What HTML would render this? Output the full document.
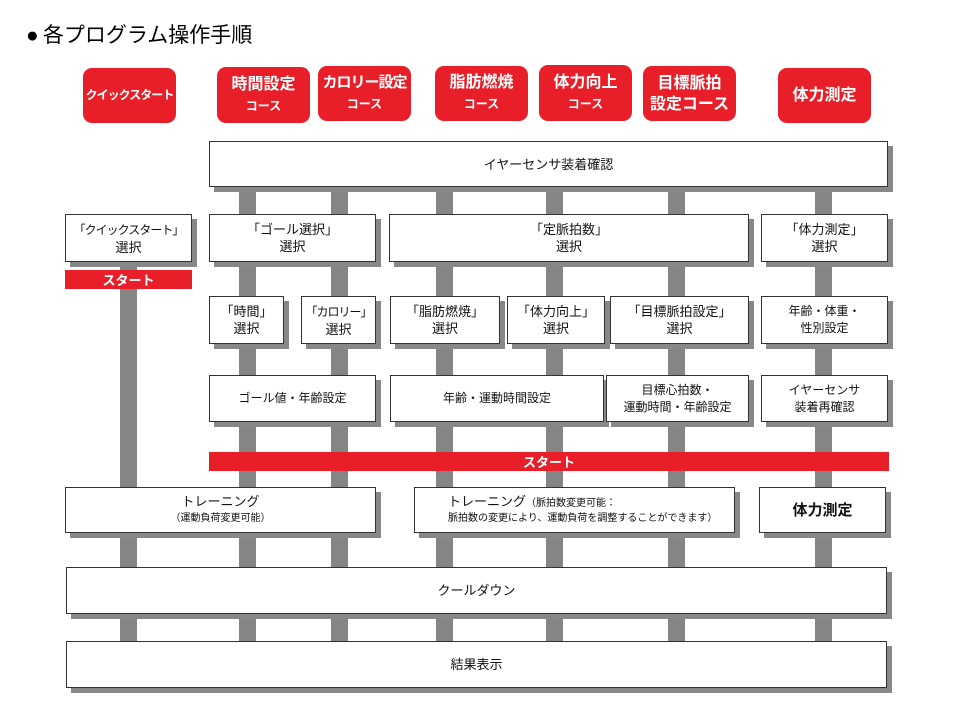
<!DOCTYPE html>
<html><head><meta charset="utf-8"><style>
body{margin:0;width:960px;height:720px;background:#fff;position:relative;overflow:hidden;font-family:"Liberation Sans","Noto Sans CJK JP",sans-serif;}
div{position:absolute;box-sizing:border-box;}
p{margin:0;white-space:nowrap;}
.v{background:#858585;width:17px;}
.b{background:#fff;border:1px solid #333;box-shadow:5px 5px 0 #888;display:flex;align-items:center;justify-content:center;text-align:center;font-size:13px;line-height:17px;color:#111;}
.r{background:#e81e28;color:#fff;border-radius:9px;display:flex;align-items:center;justify-content:center;text-align:center;font-weight:bold;font-size:16px;line-height:21px;}
.s{background:#e81e28;color:#fff;font-weight:bold;font-size:13px;display:flex;align-items:center;justify-content:center;}
</style></head><body>
<div style="left:26px;top:23px;font-size:21px;line-height:26px;white-space:nowrap">●&thinsp;各プログラム操作手順</div>

<div class="v" style="left:120px;top:262px;height:426px"></div>
<div class="v" style="left:239px;top:187px;height:501px"></div>
<div class="v" style="left:331px;top:187px;height:501px"></div>
<div class="v" style="left:436px;top:187px;height:501px"></div>
<div class="v" style="left:546px;top:187px;height:501px"></div>
<div class="v" style="left:668px;top:187px;height:501px"></div>
<div class="v" style="left:815px;top:187px;height:501px"></div>

<div class="r" style="left:83px;top:68px;width:93px;height:55px;font-size:12px;letter-spacing:-1px"><p>クイックスタート</p></div>
<div class="r" style="left:217px;top:67px;width:93px;height:56px"><p>時間設定<br><span style="font-size:12px">コース</span></p></div>
<div class="r" style="left:318px;top:66px;width:93px;height:55px"><p><span style="letter-spacing:-1px;font-size:15px">カロリー設定</span><br><span style="font-size:12px">コース</span></p></div>
<div class="r" style="left:435px;top:66px;width:93px;height:55px"><p>脂肪燃焼<br><span style="font-size:12px">コース</span></p></div>
<div class="r" style="left:539px;top:65px;width:93px;height:56px"><p>体力向上<br><span style="font-size:12px">コース</span></p></div>
<div class="r" style="left:643px;top:66px;width:93px;height:55px"><p>目標脈拍<br>設定コース</p></div>
<div class="r" style="left:778px;top:68px;width:93px;height:55px"><p>体力測定</p></div>

<div class="b" style="left:209px;top:141px;width:679px;height:46px"><p>イヤーセンサ装着確認</p></div>

<div class="b" style="left:65px;top:214px;width:127px;height:48px"><p><span style="font-size:12px;letter-spacing:-1px">「クイックスタート」</span><br>選択</p></div>
<div class="b" style="left:209px;top:214px;width:167px;height:48px"><p>「ゴール選択」<br>選択</p></div>
<div class="b" style="left:389px;top:214px;width:360px;height:48px"><p>「定脈拍数」<br>選択</p></div>
<div class="b" style="left:761px;top:214px;width:127px;height:48px"><p>「体力測定」<br>選択</p></div>
<div class="s" style="left:65px;top:270px;width:127px;height:19px">スタート</div>

<div class="b" style="left:209px;top:296px;width:75px;height:48px"><p>「時間」<br>選択</p></div>
<div class="b" style="left:301px;top:296px;width:75px;height:48px"><p><span style="font-size:12px;letter-spacing:-1px">「カロリー」</span><br>選択</p></div>
<div class="b" style="left:390px;top:296px;width:110px;height:48px"><p>「脂肪燃焼」<br>選択</p></div>
<div class="b" style="left:507px;top:296px;width:98px;height:48px"><p>「体力向上」<br>選択</p></div>
<div class="b" style="left:610px;top:296px;width:139px;height:48px"><p>「目標脈拍設定」<br>選択</p></div>
<div class="b" style="left:761px;top:296px;width:127px;height:48px;font-size:12px"><p>年齢・体重・<br>性別設定</p></div>

<div class="b" style="left:209px;top:375px;width:167px;height:47px;font-size:12px"><p>ゴール値・年齢設定</p></div>
<div class="b" style="left:390px;top:375px;width:214px;height:47px;font-size:12px"><p>年齢・運動時間設定</p></div>
<div class="b" style="left:606px;top:375px;width:143px;height:47px;font-size:12px"><p>目標心拍数・<br>運動時間・年齢設定</p></div>
<div class="b" style="left:761px;top:375px;width:127px;height:47px;font-size:12px"><p>イヤーセンサ<br>装着再確認</p></div>

<div class="s" style="left:209px;top:452px;width:680px;height:19px">スタート</div>

<div class="b" style="left:65px;top:487px;width:311px;height:46px;font-size:13px;line-height:15px"><p>トレーニング<br><span style="font-size:10px">（運動負荷変更可能）</span></p></div>
<div class="b" style="left:414px;top:487px;width:321px;height:46px;justify-content:flex-start;padding-left:33px;text-align:left;font-size:10px;line-height:15px"><p><span style="font-size:13px">トレーニング</span>（脈拍数変更可能：<br>脈拍数の変更により、運動負荷を調整することができます）</p></div>
<div class="b" style="left:759px;top:487px;width:127px;height:46px;font-size:15px;font-weight:bold"><p>体力測定</p></div>

<div class="b" style="left:66px;top:567px;width:821px;height:47px"><p>クールダウン</p></div>
<div class="b" style="left:66px;top:641px;width:821px;height:47px"><p>結果表示</p></div>
</body></html>
